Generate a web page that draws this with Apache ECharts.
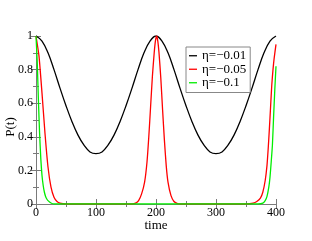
<!DOCTYPE html>
<html>
<head>
<meta charset="utf-8">
<script src="https://cdn.jsdelivr.net/npm/echarts@6/dist/echarts.min.js"></script>
<style>html,body{margin:0;padding:0;background:#fff}#c{width:312px;height:241px}</style>
</head>
<body>
<div id="c"></div>
<script>
var xTicks = [0, 100, 200, 300, 400];
var yTicks = [0, 0.2, 0.4, 0.6, 0.8, 1];
var seriesNames = ['η=−0.01', 'η=−0.05', 'η=−0.1'];

var tBlack = [0,10,20,30,40,50,60,70,80,90,100,110,120,130,140,150,160,170,180,190,200,
              210,220,230,240,250,260,270,280,290,300,310,320,330,340,350,360,370,380,390,400];
var pBlack = [1.0,0.97,0.90,0.80,0.69,0.585,0.49,0.41,0.35,0.31,0.30,0.31,0.35,0.41,0.49,0.585,0.69,0.80,0.90,0.97,1.0,
              0.97,0.90,0.80,0.69,0.585,0.49,0.41,0.35,0.31,0.30,0.31,0.35,0.41,0.49,0.585,0.69,0.80,0.90,0.97,1.0];

var tRed = [0,5,10,15,20,25,30,35,40,50,160,166,171,176,181,185,188,191,194,197,199,201,203,205,208,211,214,217,220,225,230,235,240,
            350,362,368,374,378,382,385,387,389,391,393,395,397,400];
var pRed = [1.0,0.88,0.66,0.42,0.22,0.10,0.04,0.015,0.005,0,0,0.005,0.02,0.06,0.13,0.25,0.40,0.58,0.76,0.90,0.97,1.0,0.97,0.90,0.75,0.56,0.38,0.23,0.13,0.05,0.015,0.004,0,
            0,0.005,0.015,0.035,0.07,0.14,0.23,0.33,0.45,0.58,0.71,0.80,0.87,0.95];

var tGreen = [0,2,4,6,8,10,12,14,16,18,20,25,30,370,378,382,385,388,390,392,394,396,398,400];
var pGreen = [1.0,0.85,0.62,0.42,0.27,0.17,0.11,0.07,0.045,0.03,0.02,0.006,0,0,0.005,0.02,0.045,0.10,0.16,0.25,0.35,0.52,0.68,0.82];

function pairs(t, p) { return t.map(function (v, i) { return [v, p[i]]; }); }

var font = 'Liberation Serif';
var frame = '#7a7a7a';

function axisCommon(min, max, interval, showLabels) {
  return {
    type: 'value', min: min, max: max, interval: interval,
    nameMoveOverlap: false,
    axisLine: { show: true, lineStyle: { color: frame, width: 1 } },
    axisTick: { show: true, inside: true, length: 5, lineStyle: { color: frame } },
    minorTick: { show: true, splitNumber: 2, length: 3, lineStyle: { color: frame } },
    splitLine: { show: false },
    axisLabel: { show: showLabels, color: '#000', fontFamily: font, fontSize: 12 }
  };
}

var x0 = axisCommon(xTicks[0], xTicks[xTicks.length - 1], xTicks[1] - xTicks[0], true);
x0.position = 'bottom';
x0.name = 'time'; x0.nameLocation = 'middle'; x0.nameGap = 15;
x0.nameTextStyle = { color: '#000', fontFamily: font, fontSize: 13 };
x0.axisLabel.margin = 3;
var x1 = axisCommon(xTicks[0], xTicks[xTicks.length - 1], xTicks[1] - xTicks[0], false);
x1.position = 'top';

var y0 = axisCommon(yTicks[0], yTicks[yTicks.length - 1], 0.2, true);
y0.position = 'left';
y0.name = 'P(t)'; y0.nameLocation = 'middle'; y0.nameGap = 19; y0.nameRotate = 90;
y0.nameTextStyle = { color: '#000', fontFamily: font, fontSize: 13, padding: [0, 14, 0, 0] };
y0.axisLabel.margin = 3;
var y1 = axisCommon(yTicks[0], yTicks[yTicks.length - 1], 0.2, false);
y1.position = 'right';

var colors = ['#000000', '#ff0000', '#00ee00'];
var datas = [pairs(tBlack, pBlack), pairs(tRed, pRed), pairs(tGreen, pGreen)];

var chart = echarts.init(document.getElementById('c'), null, { renderer: 'canvas' });
chart.setOption({
  animation: false,
  backgroundColor: '#fff',
  grid: { left: 36, right: 36, top: 36, bottom: 37, containLabel: false, outerBoundsMode: 'none' },
  xAxis: [x0, x1],
  yAxis: [y0, y1],
  legend: {
    orient: 'vertical', left: 186, top: 47,
    padding: [2, 4, 3, 3],
    backgroundColor: '#fff', borderColor: '#888', borderWidth: 1, borderRadius: 0,
    itemWidth: 8, itemHeight: 1.3, itemGap: 0,
    icon: 'rect',
    textStyle: { color: '#000', fontFamily: font, fontSize: 13, lineHeight: 13.5 },
    data: seriesNames
  },
  series: seriesNames.map(function (n, i) {
    return {
      name: n, type: 'line', xAxisIndex: 0, yAxisIndex: 0,
      data: datas[i], showSymbol: false, symbol: 'none',
      smooth: i === 0 ? 0.4 : 0.2,
      lineStyle: { color: colors[i], width: 1.3 },
      itemStyle: { color: colors[i] },
      clip: true, z: 2 + i
    };
  })
});
</script>
</body>
</html>
